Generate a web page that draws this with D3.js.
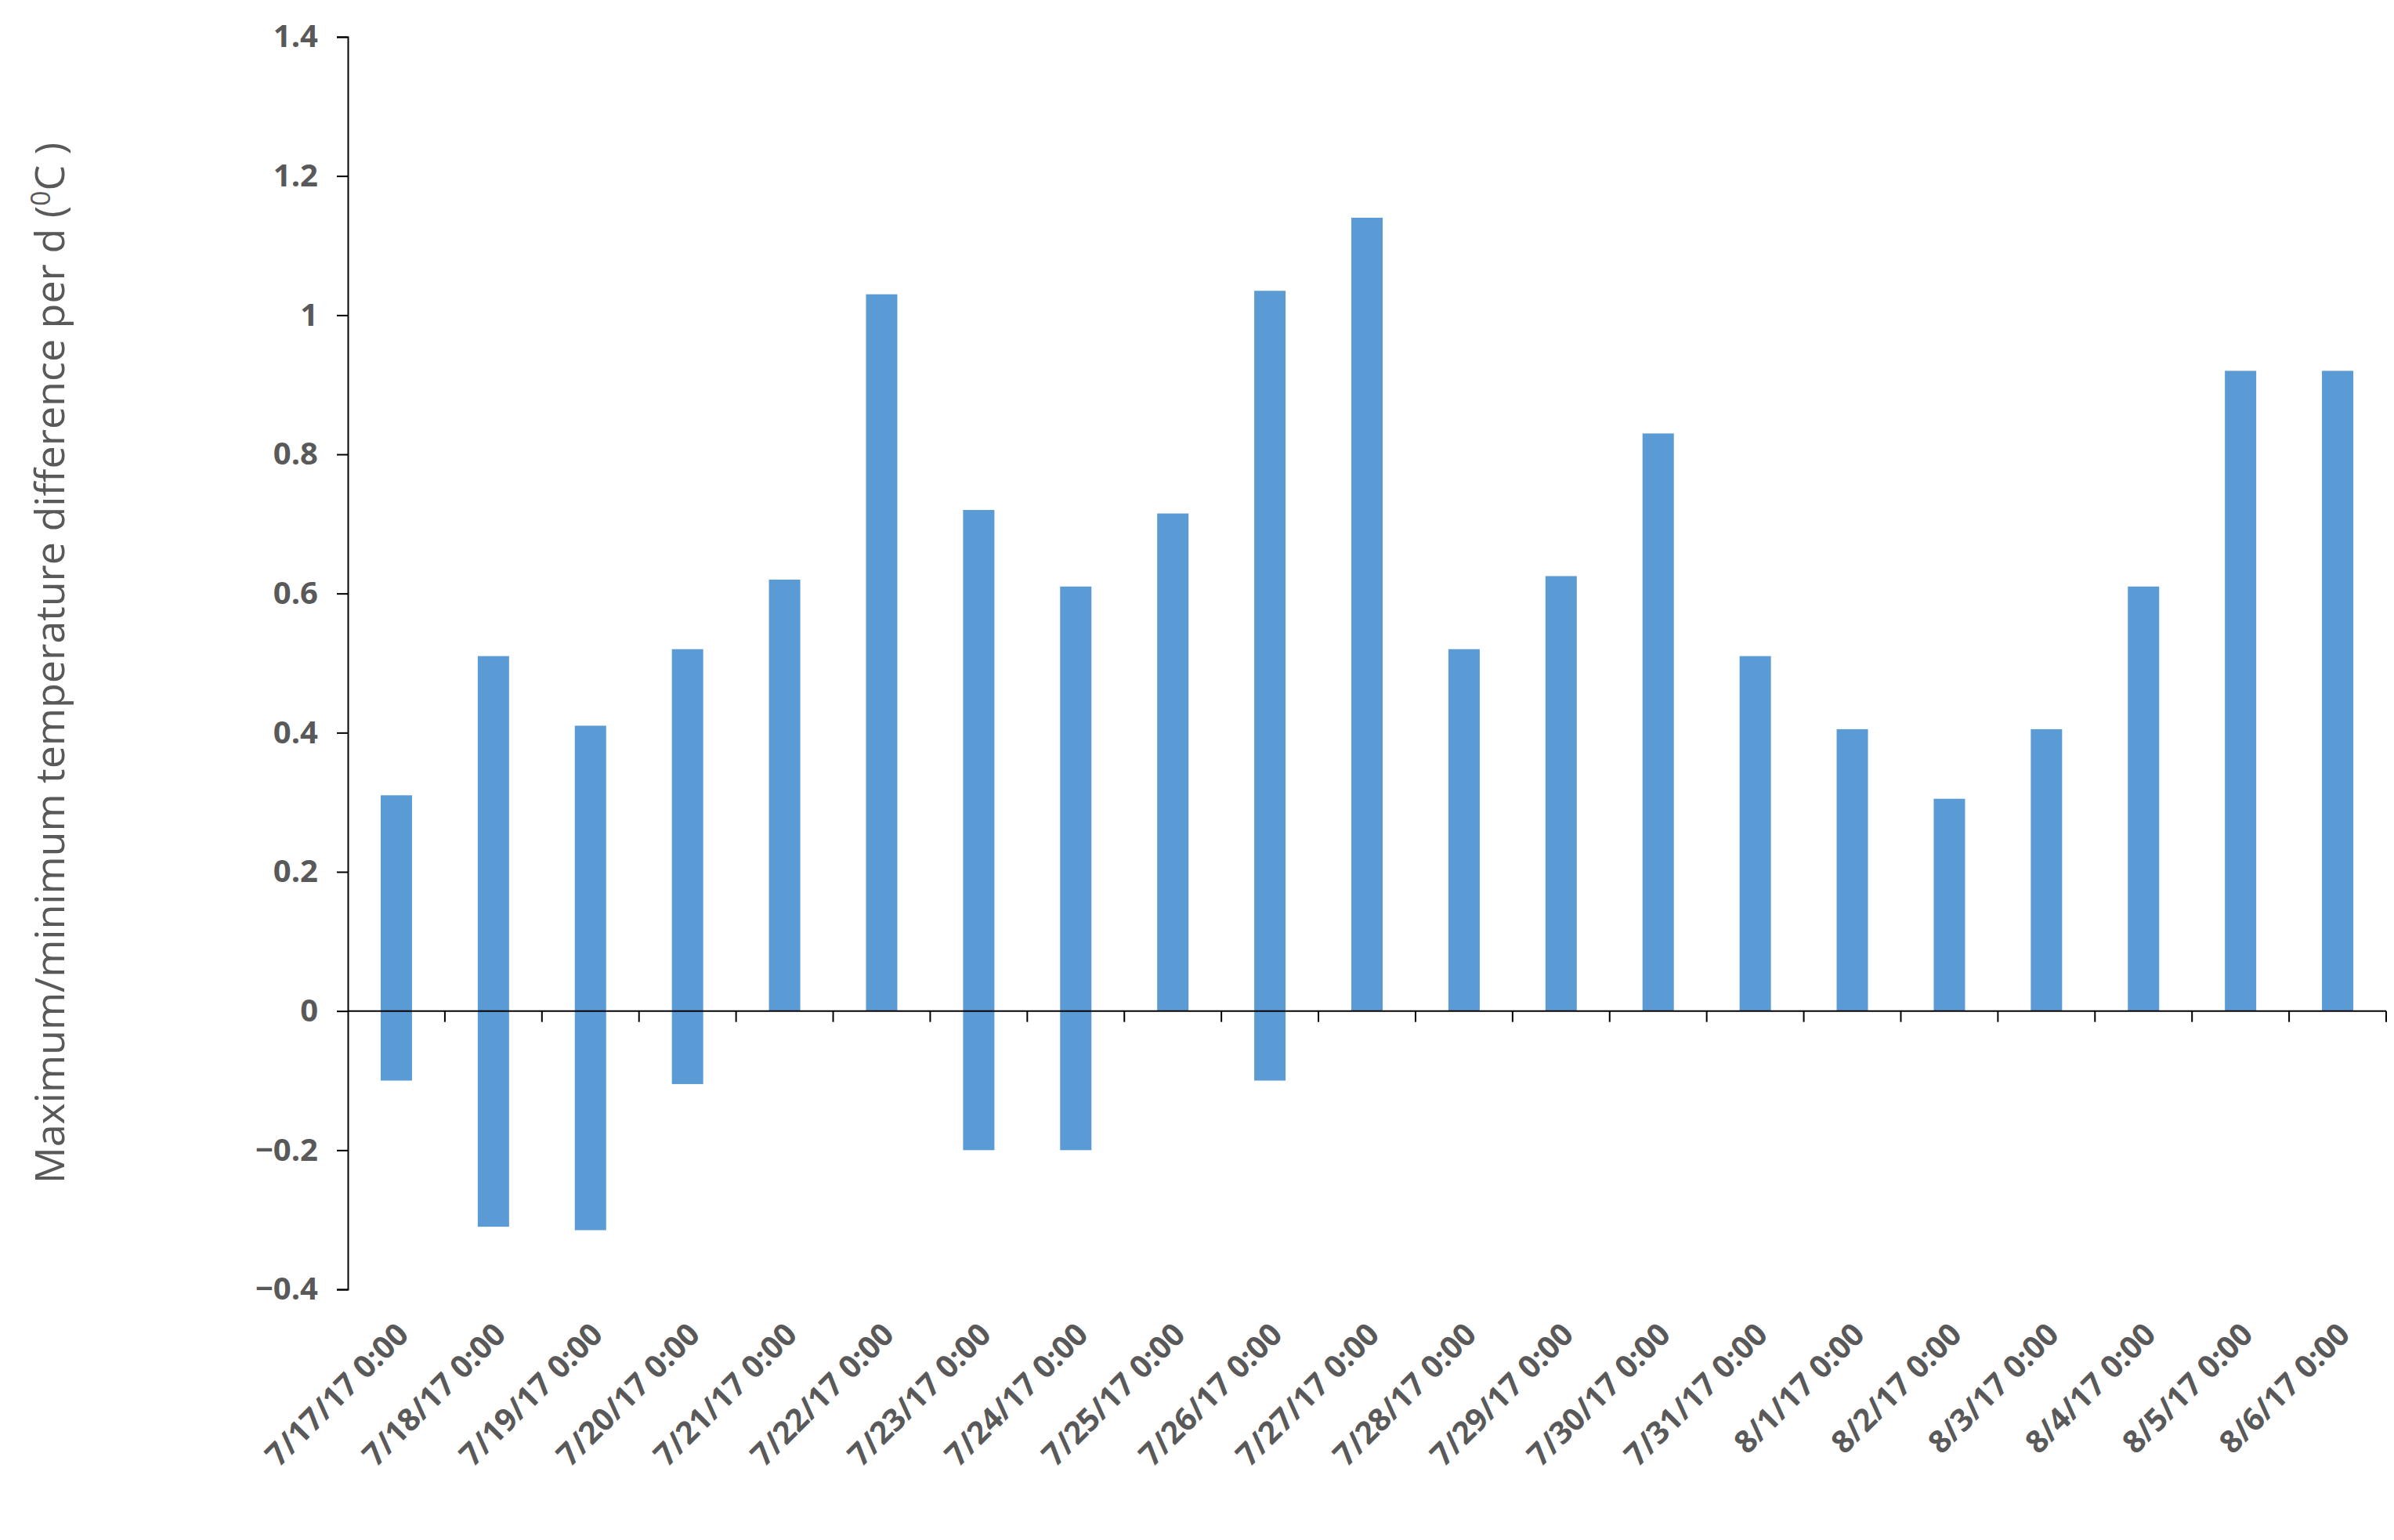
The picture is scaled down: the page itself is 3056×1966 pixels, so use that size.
<!DOCTYPE html>
<html>
<head>
<meta charset="utf-8">
<script src="https://d3js.org/d3.v7.min.js"></script>
<style>
  body { margin: 0; background: #fff; }
  text { font-family: "Open Sans", "Liberation Sans", sans-serif; fill: #595959; }
</style>
</head>
<body>
<div id="chart"></div>
<script>
  const dates = ["7/17/17 0:00", "7/18/17 0:00", "7/19/17 0:00", "7/20/17 0:00", "7/21/17 0:00",
    "7/22/17 0:00", "7/23/17 0:00", "7/24/17 0:00", "7/25/17 0:00", "7/26/17 0:00", "7/27/17 0:00",
    "7/28/17 0:00", "7/29/17 0:00", "7/30/17 0:00", "7/31/17 0:00", "8/1/17 0:00", "8/2/17 0:00",
    "8/3/17 0:00", "8/4/17 0:00", "8/5/17 0:00", "8/6/17 0:00"]
  const maxDiff = [0.31, 0.51, 0.41, 0.52, 0.62, 1.03, 0.72, 0.61, 0.715, 1.035, 1.14,
    0.52, 0.625, 0.83, 0.51, 0.405, 0.305, 0.405, 0.61, 0.92, 0.92]
  const minDiff = [-0.1, -0.31, -0.315, -0.105, 0, 0, -0.2, -0.2, 0, -0.1, 0,
    0, 0, 0, 0, 0, 0, 0, 0, 0, 0]
  const yTicks = [-0.4, -0.2, 0, 0.2, 0.4, 0.6, 0.8, 1, 1.2, 1.4]

  const width = 3056, height = 1966
  const mLeft = 444, mRight = 3046, mTop = 47, mBottom = 1646

  const svg = d3.select("#chart").append("svg").attr("width", width).attr("height", height)

  const x = d3.scaleBand().domain(dates).range([mLeft, mRight]).paddingInner(0).paddingOuter(0)
  const y = d3.scaleLinear().domain([-0.4, 1.4]).range([mBottom, mTop])
  const bw = 40

  svg.selectAll("rect.bar")
    .data(dates)
    .join("rect")
    .attr("class", "bar")
    .attr("x", d => x(d) + x.bandwidth() / 2 - bw / 2)
    .attr("width", bw)
    .attr("y", (d, i) => y(maxDiff[i]))
    .attr("height", (d, i) => y(minDiff[i]) - y(maxDiff[i]))
    .attr("fill", "#5B9BD5")

  // y axis
  const yAxis = svg.append("g").attr("transform", `translate(${mLeft},0)`)
    .call(d3.axisLeft(y).tickValues(yTicks).tickFormat(d3.format("")).tickSize(14).tickPadding(24))
  yAxis.select(".domain").attr("stroke", "#000").attr("stroke-width", 2)
  yAxis.selectAll(".tick line").attr("stroke", "#000").attr("stroke-width", 2)
  yAxis.selectAll("text").style("font-size", "40px").style("font-weight", "bold").attr("fill", "#595959")

  // x axis at zero
  const xAxis = svg.append("g").attr("transform", `translate(0,${y(0)})`)
  xAxis.append("line").attr("x1", mLeft).attr("x2", mRight).attr("stroke", "#000").attr("stroke-width", 2)
  xAxis.selectAll("line.tk")
    .data(dates.slice(1).concat(["end"]))
    .join("line")
    .attr("class", "tk")
    .attr("x1", (d, i) => i < dates.length - 1 ? x(d) : mRight)
    .attr("x2", (d, i) => i < dates.length - 1 ? x(d) : mRight)
    .attr("y1", 0).attr("y2", 14)
    .attr("stroke", "#000").attr("stroke-width", 2)

  // x labels
  svg.selectAll("text.xl")
    .data(dates)
    .join("text")
    .attr("class", "xl")
    .attr("transform", d => `translate(${x(d) + x.bandwidth() / 2 + 18},${mBottom + 60}) rotate(-45)`)
    .attr("text-anchor", "end")
    .style("font-size", "40px")
    .style("font-weight", "bold")
    .text(d => d)

  // y title
  const title = svg.append("text")
    .attr("transform", `translate(82,${(mTop + mBottom) / 2}) rotate(-90)`)
    .attr("text-anchor", "middle")
    .style("font-size", "52px")
  title.append("tspan").text("Maximum/minimum temperature difference per d (")
  title.append("tspan").text("0").attr("dy", -18).style("font-size", "34px")
  title.append("tspan").text("C )").attr("dy", 18)
</script>
</body>
</html>
